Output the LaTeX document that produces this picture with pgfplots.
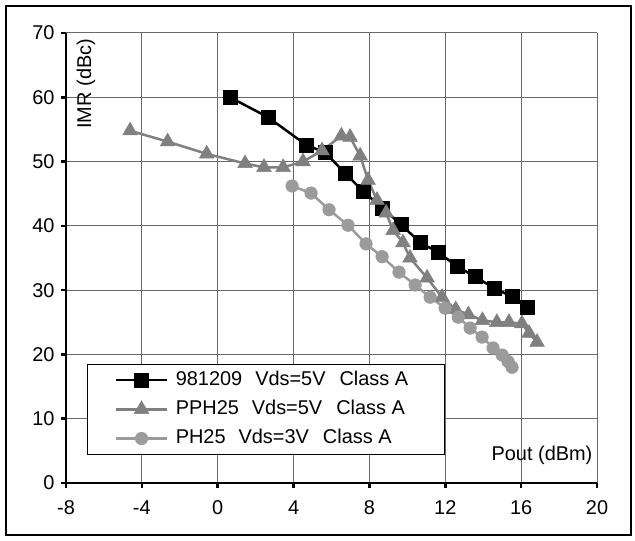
\documentclass[border=0pt]{standalone}
\usepackage{fontspec}
\setmainfont{Liberation Sans}
\usepackage{pgfplots}
\pgfplotsset{compat=1.18}
\definecolor{sB}{RGB}{128,128,128}
\definecolor{sC}{RGB}{155,155,155}
\definecolor{gridc}{RGB}{105,105,105}
\newcommand{\lent}[3]{\makebox[244bp][l]{\hspace{5bp}#1\hspace{13bp}#2\hspace{14bp}#3}}
\begin{document}
\begin{tikzpicture}[font=\fontsize{20}{24}\selectfont]
\path[use as bounding box] (-66bp,-58bp) rectangle (569bp,483bp);
\draw[black, line width=1.2bp] (-60bp,-52bp) rectangle (565bp,477bp);
\begin{axis}[
  at={(0,0)}, anchor=south west,
  scale only axis, width=531bp, height=450bp,
  xmin=-8, xmax=20, ymin=0, ymax=70,
  xtick={-8,-4,...,20}, ytick={0,10,...,70},
  axis x line*=bottom, axis y line*=left,
  axis line style={line width=2.5bp, black, -},
  tick align=outside, major tick length=5bp,
  major tick style={line width=2.5bp, black},
  grid=major, major grid style={line width=1bp, gridc},
  /pgf/number format/assume math mode=true,
  xticklabel style={yshift=-9bp},
  yticklabel style={xshift=-3bp},
  legend cell align=left,
  legend style={at={(0.0401,0.0622)}, anchor=south west, draw=black, line width=1bp,
    fill=white, inner xsep=27bp, inner ysep=7bp, row sep=11.2bp,
    nodes={text height=14bp, text depth=4bp, inner xsep=2.5bp, inner ysep=0bp}},
  legend image code/.code={\draw[mark repeat=2,mark phase=2,#1] plot coordinates {(0bp,0bp) (25.5bp,0bp) (51bp,0bp)};},
]
\addplot[color=black, line width=2.5bp, mark=square*, mark size=7bp, mark options={solid, fill=black, line width=0.5bp}] coordinates {
(0.65,60.0) (2.65,56.9) (4.66,52.6) (5.66,51.4) (6.72,48.2) (7.66,45.4) (8.67,42.8) (9.67,40.2) (10.67,37.4) (11.62,35.9) (12.62,33.7) (13.57,32.1) (14.57,30.3) (15.52,29.0) (16.31,27.3)};
\addlegendentry{\lent{981209}{Vds=5V}{Class A}}
\addplot[color=sB, line width=2.5bp, mark=triangle*, mark size=8.5bp, mark options={solid, fill=sB, line width=0.5bp}] coordinates {
(-4.62,54.8) (-2.64,53.1) (-0.58,51.2) (1.44,49.7) (2.44,49.1) (3.45,49.1) (4.50,50.0) (5.50,51.7) (6.52,54.0) (6.98,53.8) (7.51,50.9) (7.93,47.1) (8.40,44.0) (8.88,42.0) (9.25,39.3) (9.77,37.4) (10.14,35.0) (11.04,31.9) (11.83,28.9) (12.55,27.0) (13.22,26.2) (13.96,25.3) (14.72,25.0) (15.36,25.0) (16.04,24.8) (16.42,23.3) (16.84,21.9)};
\addlegendentry{\lent{PPH25}{Vds=5V}{Class A}}
\addplot[color=sC, line width=2.5bp, mark=*, mark size=6.3bp, mark options={solid, fill=sC, line width=0.5bp}] coordinates {
(3.92,46.2) (4.92,45.1) (5.87,42.5) (6.87,40.1) (7.82,37.2) (8.67,35.2) (9.56,32.8) (10.41,30.8) (11.20,28.9) (11.99,27.2) (12.68,25.8) (13.31,24.1) (13.94,22.7) (14.52,21.0) (15.00,19.9) (15.31,18.9) (15.52,18.0)};
\addlegendentry{\lent{PH25}{Vds=3V}{Class A}}
\node[rotate=90] at (axis cs:-6.95,62.1) {IMR (dBc)};
\node at (axis cs:17.1,4.35) {Pout (dBm)};
\end{axis}
\end{tikzpicture}
\end{document}
